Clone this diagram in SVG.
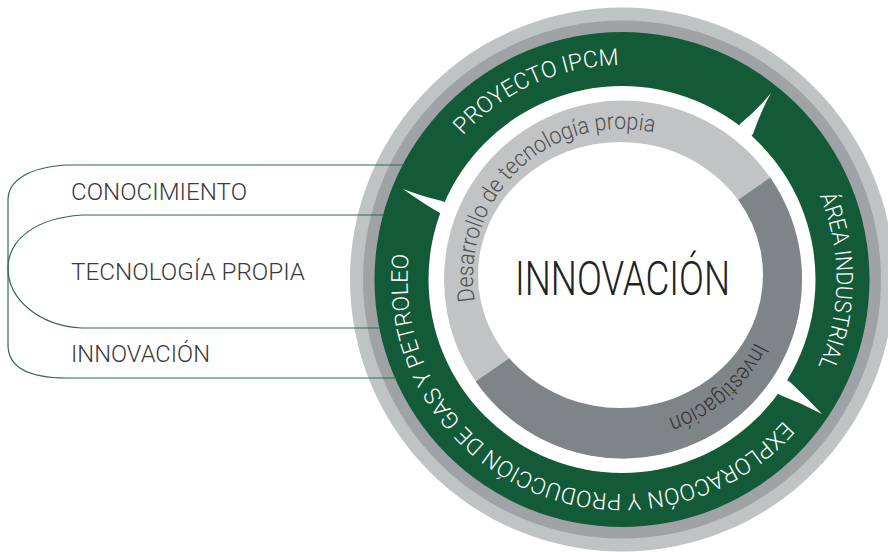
<svg xmlns="http://www.w3.org/2000/svg" width="888" height="552" viewBox="0 0 888 552">
<defs>
<path id="ringPath" d="M 622 65 A 214.5 214.5 0 1 1 622 494 A 214.5 214.5 0 1 1 622 65"/>
<path id="innerPath" d="M 621 425 A 148 148 0 1 1 621 129 A 148 148 0 1 1 621 425"/>
</defs>
<style>
.lbl{font-family:Roboto,"Liberation Sans",sans-serif;font-weight:300;fill:#3a3a3a;font-size:24.5px}
.rt{font-family:Roboto,"Liberation Sans",sans-serif;font-weight:300;fill:#ffffff;font-size:23px}
.it{font-family:Roboto,"Liberation Sans",sans-serif;font-weight:300;font-size:23.5px}
.conn{fill:none;stroke:#2d6b4a;stroke-width:1.2}
.spike{fill:#ffffff}
</style>
<g id="rings">
<circle cx="622" cy="279.5" r="272" fill="#c0c3c4"/>
<circle cx="622" cy="279.5" r="259" fill="#9fa3a5"/>
<circle cx="622" cy="279.5" r="247.5" fill="#125a38"/>
<circle cx="622" cy="279.5" r="193.5" fill="#ffffff"/>
<circle cx="623" cy="279.5" r="179" fill="#c1c3c4"/>
<path d="M 623 279.5 L 770.2 177.6 A 179 179 0 0 1 475.8 381.4 Z" fill="#7f8487"/>
<ellipse cx="620.5" cy="275" rx="142.5" ry="133" fill="#ffffff"/>
<path class="spike" d="M 736 130 L 741 123 Q 757.5 109.5 771 93 Q 760.5 112 753 134 L 747.8 139.8 Z"/>
<path class="spike" d="M 449.7 204.2 L 442 201 Q 421 196 403 189 Q 424 204 440 213 L 445.5 214.9 Z"/>
<path class="spike" d="M 782.5 377.4 L 790 382 Q 806 397 822 414 Q 801 403 780 395 L 773.7 390.5 Z"/>
</g>
<g id="connectors">
<path class="conn" d="M 404 165 H 67 C 30 167 8 180 8 200 V 345 C 8 368 30 378 67 378 H 397"/>
<path class="conn" d="M 384 215 H 82 C 35 218 8 240 8 268 C 8 300 40 326 82 328 H 381"/>
</g>
<g id="node-proyecto">
<text class="rt"><textPath href="#ringPath" startOffset="1168" textLength="176" lengthAdjust="spacingAndGlyphs">PROYECTO IPCM</textPath></text>
</g>
<g id="node-area">
<text class="rt"><textPath href="#ringPath" startOffset="250.8" textLength="175" lengthAdjust="spacingAndGlyphs">ÁREA INDUSTRIAL</textPath></text>
</g>
<g id="node-exploracion">
<text class="rt"><textPath href="#ringPath" startOffset="490.4" textLength="545" lengthAdjust="spacingAndGlyphs">EXPLORACOÓN Y PRODUCCIÓN DE GAS Y PETROLEO</textPath></text>
</g>
<g id="node-desarrollo">
<text class="it" fill="#505050"><textPath href="#innerPath" startOffset="208" textLength="290" lengthAdjust="spacingAndGlyphs">Desarrollo de tecnología propia</textPath></text>
</g>
<g id="node-investigacion">
<text class="it" fill="#333333" dy="-1"><textPath href="#innerPath" startOffset="764" textLength="118" lengthAdjust="spacingAndGlyphs">Investigación</textPath></text>
</g>
<g id="node-center">
<text x="515" y="295" font-family="Roboto, 'Liberation Sans', sans-serif" font-weight="300" font-size="48" fill="#222222" textLength="215" lengthAdjust="spacingAndGlyphs">INNOVACIÓN</text>
</g>
<g id="node-conocimiento">
<text class="lbl" x="71" y="200" textLength="176" lengthAdjust="spacingAndGlyphs">CONOCIMIENTO</text>
</g>
<g id="node-tecnologia">
<text class="lbl" x="71" y="280" textLength="234" lengthAdjust="spacingAndGlyphs">TECNOLOGÍA PROPIA</text>
</g>
<g id="node-innovacion">
<text class="lbl" x="71" y="362" textLength="139" lengthAdjust="spacingAndGlyphs">INNOVACIÓN</text>
</g>
</svg>
